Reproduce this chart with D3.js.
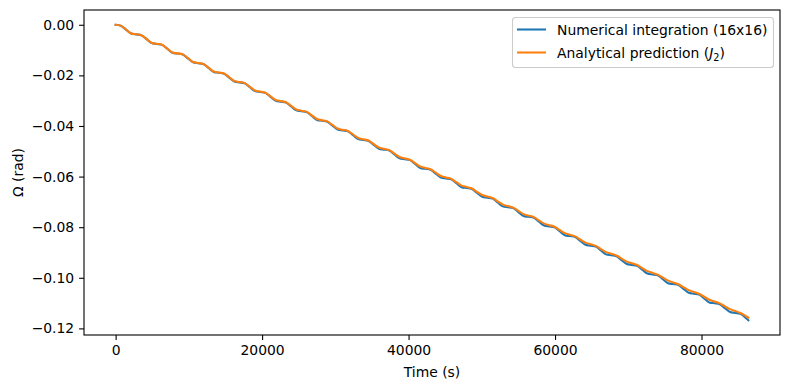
<!DOCTYPE html>
<html>
<head>
<meta charset="utf-8">
<script src="https://cdn.jsdelivr.net/npm/d3@7"></script>
<style>
  body { margin: 0; background: #fff; }
  svg { font-family: "DejaVu Sans", sans-serif; }
</style>
</head>
<body>
<div id="chart"></div>
<script>
// time samples (s)
const times = [0, 705, 1410, 2115, 2820, 3525, 4230, 4935, 5640, 6345, 7050, 7755, 8460, 9165, 9870, 10575,
  11280, 11985, 12690, 13395, 14100, 14805, 15510, 16215, 16920, 17625, 18330, 19035, 19740, 20445, 21150,
  21855, 22560, 23265, 23970, 24675, 25380, 26085, 26790, 27495, 28200, 28905, 29610, 30315, 31020, 31725,
  32430, 33135, 33840, 34545, 35250, 35955, 36660, 37365, 38070, 38775, 39480, 40185, 40890, 41595, 42300,
  43005, 43710, 44415, 45120, 45825, 46530, 47235, 47940, 48645, 49350, 50055, 50760, 51465, 52170, 52875,
  53580, 54285, 54990, 55695, 56400, 57105, 57810, 58515, 59220, 59925, 60630, 61335, 62040, 62745, 63450,
  64155, 64860, 65565, 66270, 66975, 67680, 68385, 69090, 69795, 70500, 71205, 71910, 72615, 73320, 74025,
  74730, 75435, 76140, 76845, 77550, 78255, 78960, 79665, 80370, 81075, 81780, 82485, 83190, 83895, 84600,
  85305, 86010, 86400];

// numerical integration (16x16), Omega in rad
const numerical = [0, -0.00035, -0.00190, -0.00345, -0.00380, -0.00414, -0.00569, -0.00724, -0.00759, -0.00794,
  -0.00949, -0.01104, -0.01139, -0.01174, -0.01329, -0.01483, -0.01518, -0.01553, -0.01708, -0.01863,
  -0.01898, -0.01933, -0.02088, -0.02243, -0.02277, -0.02312, -0.02467, -0.02622, -0.02657, -0.02692,
  -0.02847, -0.03002, -0.03037, -0.03071, -0.03226, -0.03381, -0.03416, -0.03451, -0.03606, -0.03761,
  -0.03796, -0.03831, -0.03986, -0.04140, -0.04175, -0.04210, -0.04365, -0.04520, -0.04555, -0.04590,
  -0.04745, -0.04900, -0.04934, -0.04969, -0.05124, -0.05279, -0.05314, -0.05349, -0.05504, -0.05659,
  -0.05694, -0.05728, -0.05883, -0.06038, -0.06073, -0.06108, -0.06263, -0.06418, -0.06453, -0.06488,
  -0.06643, -0.06797, -0.06832, -0.06867, -0.07022, -0.07177, -0.07212, -0.07247, -0.07402, -0.07557,
  -0.07591, -0.07626, -0.07781, -0.07936, -0.07971, -0.08006, -0.08161, -0.08316, -0.08351, -0.08385,
  -0.08540, -0.08695, -0.08730, -0.08765, -0.08920, -0.09075, -0.09110, -0.09145, -0.09300, -0.09454,
  -0.09489, -0.09524, -0.09679, -0.09834, -0.09869, -0.09904, -0.10059, -0.10214, -0.10248, -0.10283,
  -0.10438, -0.10593, -0.10628, -0.10663, -0.10818, -0.10973, -0.11008, -0.11042, -0.11197, -0.11352,
  -0.11387, -0.11422, -0.11577, -0.11677];

// analytical prediction (J2), Omega in rad
const analytical = [0, -0.00034, -0.00189, -0.00342, -0.00377, -0.00413, -0.00566, -0.00718, -0.00754, -0.00792,
  -0.00943, -0.01093, -0.01131, -0.01170, -0.01320, -0.01469, -0.01509, -0.01549, -0.01697, -0.01845,
  -0.01886, -0.01927, -0.02074, -0.02221, -0.02263, -0.02305, -0.02451, -0.02597, -0.02640, -0.02684,
  -0.02829, -0.02973, -0.03017, -0.03062, -0.03206, -0.03348, -0.03394, -0.03441, -0.03583, -0.03724,
  -0.03771, -0.03820, -0.03960, -0.04100, -0.04149, -0.04198, -0.04337, -0.04475, -0.04526, -0.04576,
  -0.04714, -0.04852, -0.04903, -0.04955, -0.05092, -0.05228, -0.05280, -0.05333, -0.05469, -0.05603,
  -0.05657, -0.05712, -0.05846, -0.05979, -0.06034, -0.06091, -0.06223, -0.06355, -0.06412, -0.06469,
  -0.06600, -0.06730, -0.06789, -0.06847, -0.06977, -0.07107, -0.07166, -0.07226, -0.07354, -0.07483,
  -0.07543, -0.07604, -0.07732, -0.07858, -0.07920, -0.07982, -0.08109, -0.08234, -0.08297, -0.08362,
  -0.08486, -0.08610, -0.08674, -0.08740, -0.08863, -0.08985, -0.09052, -0.09118, -0.09240, -0.09361,
  -0.09429, -0.09497, -0.09617, -0.09738, -0.09806, -0.09875, -0.09994, -0.10113, -0.10183, -0.10253,
  -0.10372, -0.10489, -0.10560, -0.10632, -0.10749, -0.10865, -0.10937, -0.11011, -0.11126, -0.11240,
  -0.11314, -0.11389, -0.11503, -0.11570];

const xTicks = [0, 20000, 40000, 60000, 80000];
const yTicks = [0, -0.02, -0.04, -0.06, -0.08, -0.10, -0.12];
const seriesNames = ['Numerical integration (16x16)', 'Analytical prediction'];
const colors = ['#1f77b4', '#ff7f0e'];

const W = 790, H = 390;
const margin = {top: 10, right: 10, bottom: 55, left: 84};
const width = W - margin.left - margin.right;
const height = H - margin.top - margin.bottom;
const fs = 13.9;

const svg = d3.select('#chart')
  .append('svg')
  .attr('width', W)
  .attr('height', H);

const g = svg.append('g')
  .attr('transform', `translate(${margin.left},${margin.top})`);

// x scale with matplotlib-like 5% margins
const xExt = d3.extent(times);
const xPad = (xExt[1] - xExt[0]) * 0.05;
const x = d3.scaleLinear()
  .domain([xExt[0] - xPad, xExt[1] + xPad])
  .range([0, width]);

const allY = numerical.concat(analytical);
const yExt = d3.extent(allY);
const yPad = (yExt[1] - yExt[0]) * 0.05;
const y = d3.scaleLinear()
  .domain([yExt[0] - yPad, yExt[1] + yPad])
  .range([height, 0]);

// lines
const line = d3.line()
  .x((d, i) => x(times[i]))
  .y(d => y(d))
  .curve(d3.curveMonotoneX);

[numerical, analytical].forEach((s, i) => {
  g.append('path')
    .datum(s)
    .attr('fill', 'none')
    .attr('stroke', colors[i])
    .attr('stroke-width', 2.08)
    .attr('stroke-linejoin', 'round')
    .attr('stroke-linecap', 'square')
    .attr('d', line);
});

// axes
const fmtY = d => d3.format('.2f')(d).replace('-', '\u2212');

const xAxis = g.append('g')
  .attr('transform', `translate(0,${height})`)
  .call(d3.axisBottom(x).tickValues(xTicks).tickFormat(d3.format('d')).tickSize(4.9).tickPadding(4.9));

const yAxis = g.append('g')
  .call(d3.axisLeft(y).tickValues(yTicks).tickFormat(fmtY).tickSize(4.9).tickPadding(4.9));

[xAxis, yAxis].forEach(a => {
  a.select('.domain').remove();
  a.selectAll('line').attr('stroke', '#000').attr('stroke-width', 1.1);
  a.selectAll('text')
    .attr('fill', '#000')
    .style('font-size', fs + 'px')
    .style('font-family', '"DejaVu Sans", sans-serif');
});

// frame
g.append('rect')
  .attr('width', width)
  .attr('height', height)
  .attr('fill', 'none')
  .attr('stroke', '#000')
  .attr('stroke-width', 1.1);

// axis labels
svg.append('text')
  .attr('x', margin.left + width / 2)
  .attr('y', 377)
  .attr('text-anchor', 'middle')
  .style('font-size', fs + 'px')
  .text('Time (s)');

svg.append('text')
  .attr('transform', `translate(23,${margin.top + height / 2}) rotate(-90)`)
  .attr('text-anchor', 'middle')
  .style('font-size', fs + 'px')
  .text('\u03A9 (rad)');

// legend
const leg = svg.append('g').attr('transform', 'translate(512.5,17.5)');
leg.append('rect')
  .attr('width', 261)
  .attr('height', 50)
  .attr('rx', 3)
  .attr('fill', '#fff')
  .attr('fill-opacity', 0.8)
  .attr('stroke', '#cccccc')
  .attr('stroke-width', 1.1);

seriesNames.forEach((name, i) => {
  const yy = 12 + i * 23;
  leg.append('line')
    .attr('x1', 4.5).attr('x2', 33.5)
    .attr('y1', yy).attr('y2', yy)
    .attr('stroke', colors[i])
    .attr('stroke-width', 2.08);
  const t = leg.append('text')
    .attr('x', 44.5)
    .attr('y', yy + 5)
    .style('font-size', fs + 'px')
    .text(name);
  if (i === 1) {
    t.append('tspan').text(' (');
    t.append('tspan').style('font-style', 'italic').text('J');
    t.append('tspan').attr('dy', 3).style('font-size', (fs * 0.7) + 'px').text('2');
    t.append('tspan').attr('dy', -3).text(')');
  }
});
</script>
</body>
</html>
